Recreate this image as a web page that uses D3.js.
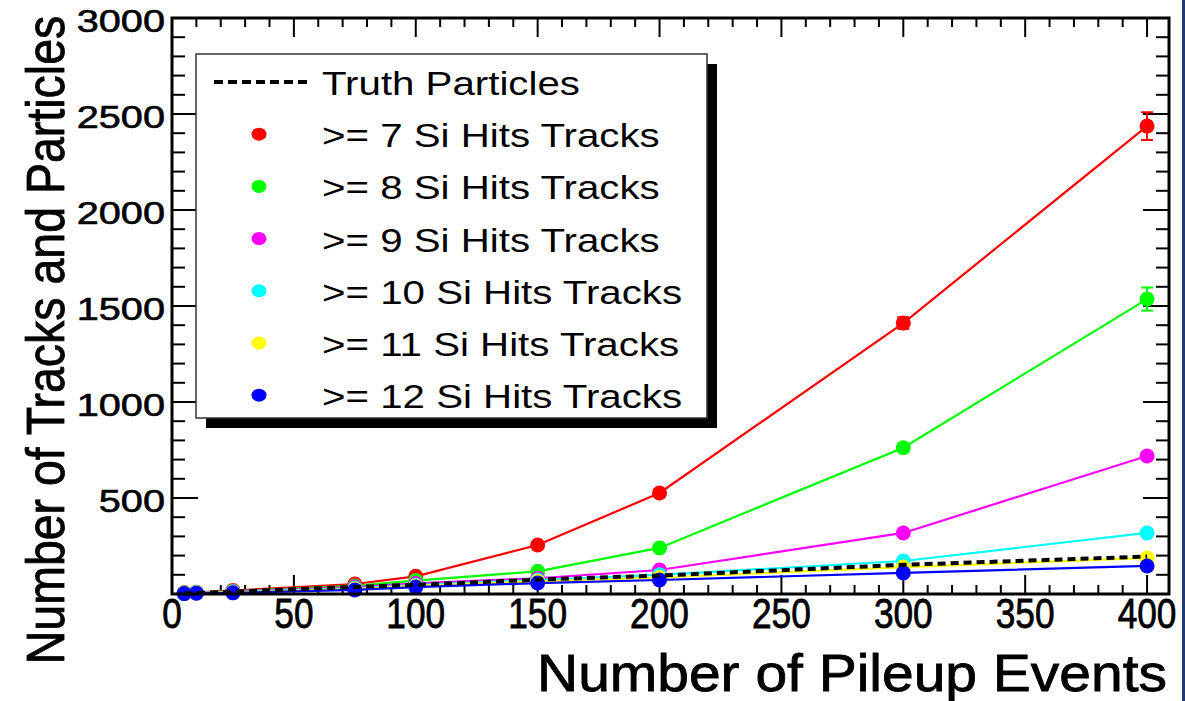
<!DOCTYPE html>
<html>
<head>
<meta charset="utf-8">
<script src="https://cdn.jsdelivr.net/npm/d3@7"></script>
<style>
    body { margin: 0; background: white; }
    svg { display: block; }
</style>
</head>
<body>
<div class="pileupChartDiv"></div>
<script>
// values
const pileup = [5, 10, 25, 75, 100, 150, 200, 300, 400];
const truthParticles = [2, 5, 12, 37, 48, 75, 96, 152, 195];
const hits7 = [6, 9, 18, 52, 92, 255, 526, 1411, 2437];
const hits8 = [5, 8, 14, 42, 70, 118, 240, 762, 1536];
const hits9 = [4, 7, 12, 36, 55, 82, 125, 318, 719];
const hits10 = [3, 6, 10, 30, 46, 73, 100, 172, 318];
const hits11 = [3, 5, 8, 26, 42, 66, 86, 140, 188];
const hits12 = [2, 4, 6, 21, 36, 57, 73, 110, 146];
const err7 = [1, 1, 2, 4, 6, 12, 18, 30, 72];
const err8 = [1, 1, 2, 3, 5, 8, 12, 22, 60];
const err9 = [1, 1, 1, 2, 3, 5, 8, 12, 20];
const err10 = [1, 1, 1, 2, 3, 4, 5, 8, 12];
const err11 = [1, 1, 1, 2, 2, 3, 4, 6, 10];
const err12 = [1, 1, 1, 2, 2, 3, 4, 5, 8];

const seriesNames = ['>= 7 Si Hits Tracks', '>= 8 Si Hits Tracks', '>= 9 Si Hits Tracks',
    '>= 10 Si Hits Tracks', '>= 11 Si Hits Tracks', '>= 12 Si Hits Tracks'];
const seriesValues = [hits7, hits8, hits9, hits10, hits11, hits12];
const seriesErrors = [err7, err8, err9, err10, err11, err12];
const seriesColors = ['#ff0000', '#00ff00', '#ff00ff', '#00ffff', '#ffff00', '#0000ff'];
const truthName = 'Truth Particles';

const xTicks = [0, 50, 100, 150, 200, 250, 300, 350, 400];
const yTicks = [500, 1000, 1500, 2000, 2500, 3000];

const chartWidth = 1185;
const chartHeight = 701;
const frame = {left: 172, right: 1169, top: 18, bottom: 594};
const markerRadius = 7.5;

const svg = d3.select('.pileupChartDiv')
    .append('svg')
    .attr('width', chartWidth)
    .attr('height', chartHeight)
    .style('font-family', '"Liberation Sans", Arial, Helvetica, sans-serif');

const xScale = d3.scaleLinear().domain([0, 409]).range([frame.left, frame.right]);
const yScale = d3.scaleLinear().domain([0, 3000]).range([frame.bottom, frame.top]);

// tick marks on all four sides, ROOT style
const ticksG = svg.append('g')
    .attr('stroke', 'black')
    .attr('stroke-width', 2);

d3.range(0, 401, 10).forEach(v => {
    const major = v % 50 === 0;
    const len = major ? 19 : 9;
    const x = xScale(v);
    ticksG.append('line').attr('x1', x).attr('x2', x)
        .attr('y1', frame.bottom).attr('y2', frame.bottom - len);
    ticksG.append('line').attr('x1', x).attr('x2', x)
        .attr('y1', frame.top).attr('y2', frame.top + len);
});

d3.range(0, 3001, 100).forEach(v => {
    const major = v % 500 === 0;
    const len = major ? 26 : 13;
    const y = yScale(v);
    ticksG.append('line').attr('x1', frame.left).attr('x2', frame.left + len)
        .attr('y1', y).attr('y2', y);
    ticksG.append('line').attr('x1', frame.right).attr('x2', frame.right - len)
        .attr('y1', y).attr('y2', y);
});

// tick labels
svg.selectAll('.xlabel')
    .data(xTicks)
    .join('text')
    .attr('class', 'xlabel')
    .attr('transform', d => `translate(${xScale(d)},628) scale(0.84,1)`)
    .attr('text-anchor', 'middle')
    .style('font-size', '42px')
    .style('stroke', 'black')
    .style('stroke-width', 0.8)
    .text(d => d);

svg.selectAll('.ylabel')
    .data(yTicks)
    .join('text')
    .attr('class', 'ylabel')
    .attr('transform', d => `translate(165,${yScale(d) + 14}) scale(1.28,1)`)
    .attr('text-anchor', 'end')
    .style('font-size', '31px')
    .style('stroke', 'black')
    .style('stroke-width', 0.6)
    .text(d => d);

// axis titles
svg.append('text')
    .attr('x', 537)
    .attr('y', 691)
    .attr('textLength', 630)
    .attr('lengthAdjust', 'spacingAndGlyphs')
    .style('font-size', '52px')
    .style('stroke', 'black')
    .style('stroke-width', 0.8)
    .text('Number of Pileup Events');

svg.append('text')
    .attr('transform', 'translate(64,340) rotate(-90) scale(1,1.17)')
    .attr('text-anchor', 'middle')
    .style('font-size', '46.5px')
    .style('stroke', 'black')
    .style('stroke-width', 0.7)
    .text('Number of Tracks and Particles');

// series lines, error bars and markers
const line = d3.line()
    .x((d, i) => xScale(pileup[i]))
    .y(d => yScale(d));

seriesValues.forEach((vals, k) => {
    const g = svg.append('g');
    g.append('path')
        .datum(vals)
        .attr('d', line)
        .attr('fill', 'none')
        .attr('stroke', seriesColors[k])
        .attr('stroke-width', 2.2);

    g.selectAll('.errbar')
        .data(vals)
        .join('path')
        .attr('class', 'errbar')
        .attr('d', (d, i) => {
            const x = xScale(pileup[i]);
            const y0 = yScale(d - seriesErrors[k][i]);
            const y1 = yScale(d + seriesErrors[k][i]);
            return `M${x},${y0}V${y1}M${x - 6},${y0}H${x + 6}M${x - 6},${y1}H${x + 6}`;
        })
        .attr('stroke', seriesColors[k])
        .attr('stroke-width', 2)
        .attr('fill', 'none');

    g.selectAll('circle')
        .data(vals)
        .join('circle')
        .attr('cx', (d, i) => xScale(pileup[i]))
        .attr('cy', d => yScale(d))
        .attr('r', markerRadius)
        .attr('fill', seriesColors[k]);
});

// truth particles dashed line on top
svg.append('path')
    .datum(truthParticles)
    .attr('d', line)
    .attr('fill', 'none')
    .attr('stroke', 'black')
    .attr('stroke-width', 4)
    .attr('stroke-dasharray', '8,5');

// frame
svg.append('rect')
    .attr('x', frame.left)
    .attr('y', frame.top)
    .attr('width', frame.right - frame.left)
    .attr('height', frame.bottom - frame.top)
    .attr('fill', 'none')
    .attr('stroke', 'black')
    .attr('stroke-width', 3);

// legend with shadow
const legend = {x: 196, y: 54, w: 511, h: 364, shadow: 10};
svg.append('rect')
    .attr('x', legend.x + legend.shadow)
    .attr('y', legend.y + legend.shadow)
    .attr('width', legend.w)
    .attr('height', legend.h)
    .attr('fill', 'black');
svg.append('rect')
    .attr('x', legend.x)
    .attr('y', legend.y)
    .attr('width', legend.w)
    .attr('height', legend.h)
    .attr('fill', 'white')
    .attr('stroke', '#333')
    .attr('stroke-width', 1.5);

const legendRowY = i => 82 + i * 52.2;

svg.append('line')
    .attr('x1', 214).attr('x2', 307)
    .attr('y1', legendRowY(0)).attr('y2', legendRowY(0))
    .attr('stroke', 'black')
    .attr('stroke-width', 4)
    .attr('stroke-dasharray', '9,5');

seriesColors.forEach((c, k) => {
    svg.append('ellipse')
        .attr('cx', 259)
        .attr('cy', legendRowY(k + 1))
        .attr('rx', 7.5)
        .attr('ry', 6.5)
        .attr('fill', c);
});

[truthName].concat(seriesNames).forEach((name, i) => {
    svg.append('text')
        .attr('transform', `translate(322,${legendRowY(i) + 13}) scale(1.22,1)`)
        .style('font-size', '33px')
        .text(name);
});

// navy strip on the right edge
svg.append('rect')
    .attr('x', 1182)
    .attr('y', 0)
    .attr('width', 3)
    .attr('height', chartHeight)
    .attr('fill', '#1f3b73');
</script>
</body>
</html>
